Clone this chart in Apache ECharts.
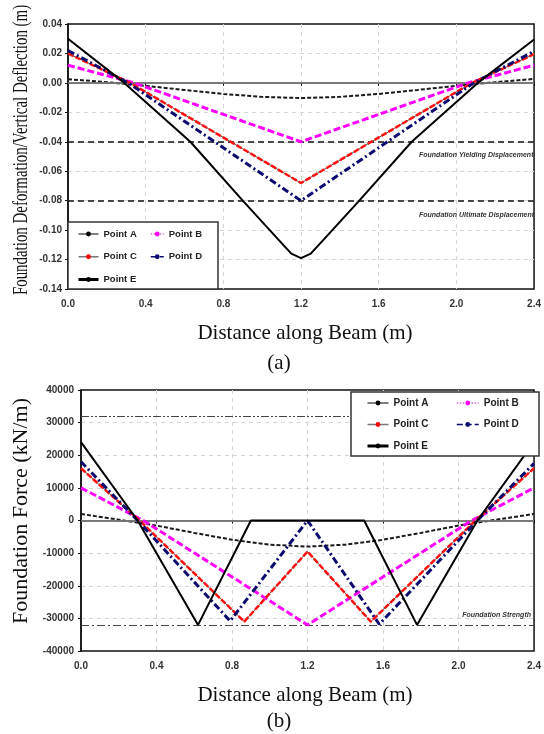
<!DOCTYPE html>
<html><head><meta charset="utf-8">
<script src="https://cdn.jsdelivr.net/npm/echarts@6/dist/echarts.min.js"></script>
<style>html,body{margin:0;padding:0;background:#fff}#c{width:544px;height:734px}</style>
</head><body><div id="c"></div>
<script>
// ---------- data ----------
const pointNames = ['Point A', 'Point B', 'Point C', 'Point D', 'Point E'];

// (a) Foundation deformation / vertical deflection (m) vs distance along beam (m)
const deflA = [[0,0.0025],[0.2,0.0005],[0.4,-0.002],[0.6,-0.0048],[0.8,-0.0075],[1.0,-0.0095],[1.2,-0.0103],[1.4,-0.0095],[1.6,-0.0075],[1.8,-0.0048],[2.0,-0.002],[2.2,0.0005],[2.4,0.0027]];
const deflB = [[0,0.012],[0.34,0],[1.2,-0.040],[2.06,0],[2.4,0.012]];
const deflC = [[0,0.020],[0.32,0],[1.2,-0.068],[2.08,0],[2.4,0.0195]];
const deflD = [[0,0.022],[0.31,0],[1.2,-0.080],[2.09,0],[2.4,0.0215]];
const deflE = [[0,0.030],[0.29,0],[0.63,-0.040],[0.9,-0.080],[1.08,-0.106],[1.15,-0.116],[1.2,-0.119],[1.25,-0.116],[1.32,-0.106],[1.5,-0.080],[1.77,-0.040],[2.11,0],[2.4,0.0295]];
const deflThresholds = [-0.04, -0.08];
const deflThresholdLabels = ['Foundation Yielding Displacement', 'Foundation Ultimate Displacement'];

// (b) Foundation force (kN/m) vs distance along beam (m)
const forceA = [[0,2000],[0.2,250],[0.4,-1550],[0.6,-3800],[0.8,-5900],[1.0,-7400],[1.2,-8000],[1.4,-7400],[1.6,-5900],[1.8,-3800],[2.0,-1550],[2.2,250],[2.4,2000]];
const forceB = [[0,10000],[0.33,0],[1.2,-32000],[2.07,0],[2.4,10000]];
const forceC = [[0,16000],[0.31,0],[0.865,-31000],[1.2,-9500],[1.535,-31000],[2.09,0],[2.4,16000]];
const forceD = [[0,18000],[0.3,0],[0.79,-30800],[1.2,0],[1.58,-31800],[2.1,0],[2.4,17500]];
const forceE = [[0,24000],[0.3,0],[0.62,-32000],[0.9,0],[1.5,0],[1.78,-32000],[2.1,0],[2.4,24000]];
const forceUpperLimit = 32000;
const forceLowerLimit = -32000;
const forceLimitLabel = 'Foundation Strength';

// axes / tick labels
const xMin = 0, xMax = 2.4, xStep = 0.4;
const deflMin = -0.14, deflMax = 0.04, deflStep = 0.02;
const forceMin = -40000, forceMax = 40000, forceStep = 10000;
const xTitle = 'Distance along Beam (m)';
const deflTitle = 'Foundation Deformation/Vertical Deflection (m)';
const forceTitle = 'Foundation Force (kN/m)';
const panelLabels = ['(a)', '(b)'];

// ---------- styles ----------
const SANS = '"Liberation Sans", Arial, sans-serif';
const SERIF = '"Liberation Serif", "Times New Roman", serif';
const styles = {
  'Point A': {color:'#1a1a1a', width:2, type:[4,2]},
  'Point B': {color:'#ff00ff', width:3, type:[7,3]},
  'Point C': {color:'#ff1010', width:2.5, type:[6,2]},
  'Point D': {color:'#0b0b70', width:3, type:[7,3,2,3]},
  'Point E': {color:'#000000', width:2, type:'solid'}
};
const legendIconStyles = {
  'Point A': {line:{color:'#555', type:'solid', width:1.5}, item:{color:'#000'}},
  'Point B': {line:{color:'#d070d0', type:'dotted', width:1.5}, item:{color:'#ff00ff'}},
  'Point C': {line:{color:'#777', type:'solid', width:1.5}, item:{color:'#ff0000'}},
  'Point D': {line:{color:'#0b0b70', type:'dashed', width:1.5}, item:{color:'#0b0b70'}},
  'Point E': {line:{color:'#000', type:'solid', width:3}, item:{color:'#000'}}
};

function lineSeries(name, data, gi, z) {
  const s = styles[name];
  return {
    type:'line', name, data, xAxisIndex:gi, yAxisIndex:gi,
    symbol:'circle', symbolSize:4, showSymbol:false, silent:true, z:z,
    lineStyle:{color:s.color, width:s.width, type:s.type},
    itemStyle:{color:s.color}
  };
}
function baseLine(data, gi) {
  return {type:'line', name:'Point C base', data, xAxisIndex:gi, yAxisIndex:gi,
    symbol:'none', silent:true, z:3, lineStyle:{color:'#555', width:1, type:'solid'}};
}
function legendItems(names) {
  return names.map(n => ({name:n, itemStyle:legendIconStyles[n].item, lineStyle:legendIconStyles[n].line}));
}

const axisLabel = {fontFamily:SANS, fontWeight:'bold', fontSize:10, color:'#333'};
const splitLine = {show:true, showMinLine:false, showMaxLine:false, lineStyle:{color:'#d4d4d4', type:[4,4], width:1}};
function xAxisCfg(gi) {
  return {type:'value', gridIndex:gi, min:xMin, max:xMax, interval:xStep,
    axisLine:{lineStyle:{color:'#111', width:1.5}}, axisTick:{show:true, length:3, lineStyle:{color:'#111'}},
    axisLabel:Object.assign({margin:10, formatter:v => v.toFixed(1)}, axisLabel),
    splitLine};
}

const zeroLineStyle = {color:'#8a8a8a', width:1.5, type:'solid'};

const series = [];
// (a)
series.push(baseLine(deflC, 0));
series.push(lineSeries('Point A', deflA, 0, 4));
series.push(lineSeries('Point B', deflB, 0, 5));
series.push(lineSeries('Point C', deflC, 0, 6));
series.push(lineSeries('Point D', deflD, 0, 7));
series.push(lineSeries('Point E', deflE, 0, 8));
series.push({type:'line', name:'refA', data:[], xAxisIndex:0, yAxisIndex:0, silent:true, z:2,
  markLine:{silent:true, symbol:'none', label:{show:false}, animation:false,
    data:[{yAxis:0, lineStyle:zeroLineStyle}].concat(deflThresholds.map(v => ({yAxis:v, lineStyle:{color:'#111', width:1.5, type:[6,4]}})))}});
// (b)
series.push(baseLine(forceC, 1));
series.push(lineSeries('Point A', forceA, 1, 4));
series.push(lineSeries('Point B', forceB, 1, 5));
series.push(lineSeries('Point C', forceC, 1, 6));
series.push(lineSeries('Point D', forceD, 1, 7));
series.push(lineSeries('Point E', forceE, 1, 8));
series.push({type:'line', name:'refB', data:[], xAxisIndex:1, yAxisIndex:1, silent:true, z:2,
  markLine:{silent:true, symbol:'none', label:{show:false}, animation:false,
    data:[{yAxis:0, lineStyle:zeroLineStyle},
          {yAxis:forceUpperLimit, lineStyle:{color:'#444', width:1.2, type:[8,2,2,2,2,2]}},
          {yAxis:forceLowerLimit, lineStyle:{color:'#444', width:1.2, type:[8,3,2,3]}}]}});

const legendText = {fontFamily:SANS, fontWeight:'bold', color:'#222', lineHeight:12};

const option = {
  animation:false,
  backgroundColor:'#fff',
  grid:[
    {left:68, top:24, width:471, height:265, show:true, borderColor:'#111', borderWidth:1.5, backgroundColor:'transparent'},
    {left:81, top:390, width:458, height:261, show:true, borderColor:'#111', borderWidth:1.5, backgroundColor:'transparent'}
  ],
  xAxis:[xAxisCfg(0), xAxisCfg(1)],
  yAxis:[
    {type:'value', gridIndex:0, min:deflMin, max:deflMax, interval:deflStep,
      axisLine:{show:true, lineStyle:{color:'#111', width:1.5}}, axisTick:{show:true, length:3, lineStyle:{color:'#111'}},
      axisLabel:Object.assign({margin:6, formatter:v => (Math.abs(v) < 1e-9 ? 0 : v).toFixed(2)}, axisLabel),
      splitLine},
    {type:'value', gridIndex:1, min:forceMin, max:forceMax, interval:forceStep,
      axisLine:{show:true, lineStyle:{color:'#111', width:1.5}}, axisTick:{show:true, length:3, lineStyle:{color:'#111'}},
      axisLabel:Object.assign({margin:7, formatter:v => String(Math.round(v))}, axisLabel),
      splitLine}
  ],
  legend:[
    {orient:'vertical', left:77, top:228, padding:0, itemWidth:20, itemHeight:6, itemGap:10.75, z:120,
      data:legendItems(['Point A','Point C','Point E']), textStyle:Object.assign({fontSize:9.5}, legendText), selectedMode:false},
    {orient:'vertical', left:150, top:228, padding:0, itemWidth:13, itemHeight:6, itemGap:10.75, z:120,
      data:legendItems(['Point B','Point D']), textStyle:Object.assign({fontSize:9.5}, legendText), selectedMode:false},
    {orient:'vertical', left:366, top:397, padding:0, itemWidth:21, itemHeight:6, itemGap:9.5, z:120,
      data:legendItems(['Point A','Point C','Point E']), textStyle:Object.assign({fontSize:10}, legendText), selectedMode:false},
    {orient:'vertical', left:456, top:397, padding:0, itemWidth:22, itemHeight:6, itemGap:9.5, z:120,
      data:legendItems(['Point B','Point D']), textStyle:Object.assign({fontSize:10}, legendText), selectedMode:false}
  ],
  graphic:[
    {type:'rect', z:100, shape:{x:68, y:222, width:150, height:67}, style:{fill:'#fff', stroke:'#333', lineWidth:1.5}},
    {type:'rect', z:100, shape:{x:351, y:392, width:188, height:64}, style:{fill:'#fff', stroke:'#333', lineWidth:1.5}},
    {type:'text', z:100, x:21, y:150, rotation:Math.PI/2, scaleX:0.71,
      style:{text:deflTitle, font:'21px ' + SERIF, fill:'#111', align:'center', verticalAlign:'middle', textAlign:'center', textVerticalAlign:'middle'}},
    {type:'text', z:100, x:21, y:511, rotation:Math.PI/2,
      style:{text:forceTitle, font:'22px ' + SERIF, fill:'#111', align:'center', verticalAlign:'middle', textAlign:'center', textVerticalAlign:'middle'}},
    {type:'text', z:100, x:305, y:333,
      style:{text:xTitle, font:'21px ' + SERIF, fill:'#111', align:'center', verticalAlign:'middle', textAlign:'center', textVerticalAlign:'middle'}},
    {type:'text', z:100, x:305, y:695,
      style:{text:xTitle, font:'21px ' + SERIF, fill:'#111', align:'center', verticalAlign:'middle', textAlign:'center', textVerticalAlign:'middle'}},
    {type:'text', z:100, x:279, y:363,
      style:{text:panelLabels[0], font:'21px ' + SERIF, fill:'#111', align:'center', verticalAlign:'middle', textAlign:'center', textVerticalAlign:'middle'}},
    {type:'text', z:100, x:279, y:721,
      style:{text:panelLabels[1], font:'21px ' + SERIF, fill:'#111', align:'center', verticalAlign:'middle', textAlign:'center', textVerticalAlign:'middle'}},
    {type:'text', z:100, x:419, y:155,
      style:{text:deflThresholdLabels[0], font:'italic bold 7px ' + SANS, fill:'#333', align:'left', verticalAlign:'middle', textAlign:'left', textVerticalAlign:'middle'}},
    {type:'text', z:100, x:419, y:215,
      style:{text:deflThresholdLabels[1], font:'italic bold 7px ' + SANS, fill:'#333', align:'left', verticalAlign:'middle', textAlign:'left', textVerticalAlign:'middle'}},
    {type:'text', z:100, x:531, y:615,
      style:{text:forceLimitLabel, font:'italic bold 7px ' + SANS, fill:'#333', align:'right', verticalAlign:'middle', textAlign:'right', textVerticalAlign:'middle'}}
  ],
  series
};
const chart = echarts.init(document.getElementById('c'), null, {renderer:'canvas'});
chart.setOption(option);
</script>
</body></html>
